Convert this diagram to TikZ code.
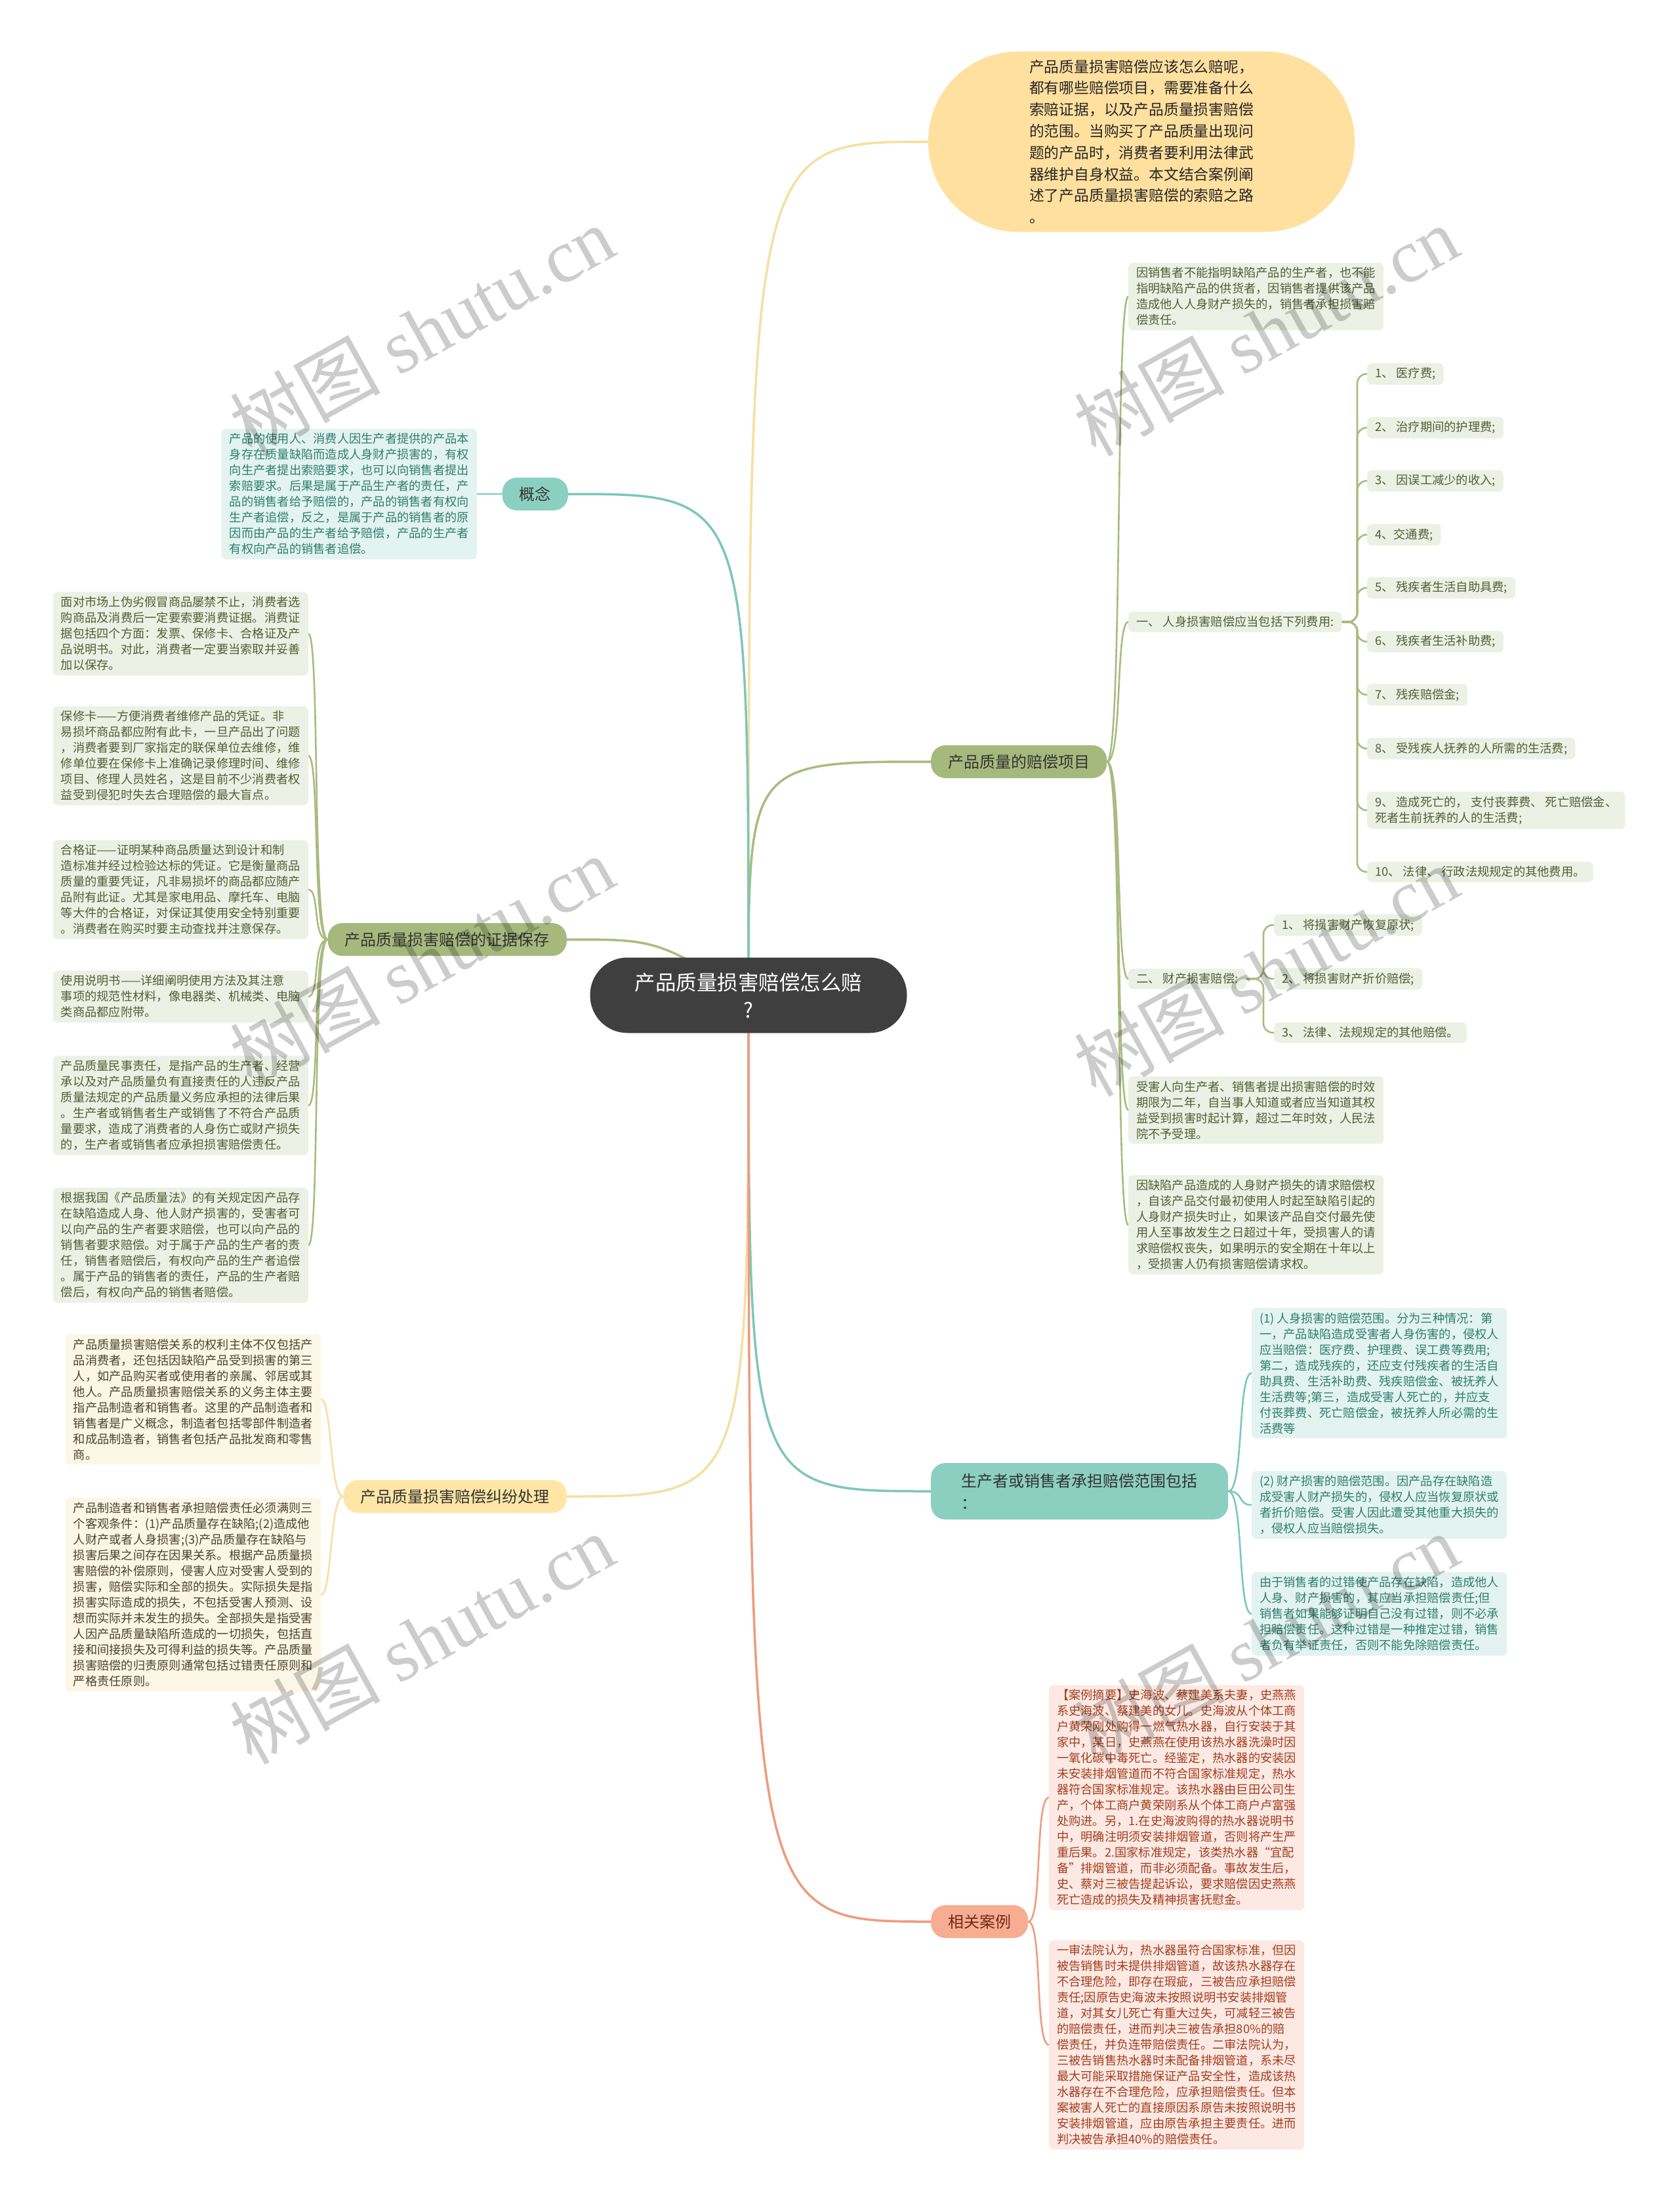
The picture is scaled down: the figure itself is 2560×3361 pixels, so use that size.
\documentclass[tikz,border=0pt]{standalone}
\usepackage{fontspec}
\setmainfont{Noto Sans CJK SC}
\newfontfamily\wmserif{Liberation Serif}
\usetikzlibrary{backgrounds}
\definecolor{rootfill}{HTML}{3F3F3F}
\definecolor{bubfill}{HTML}{FFE09F}
\definecolor{olvfill}{HTML}{A5B97D}
\definecolor{olvline}{HTML}{A9BB80}
\definecolor{olvleaf}{HTML}{EDF0E4}
\definecolor{olvtext}{HTML}{535E38}
\definecolor{tealfill}{HTML}{8BCFC1}
\definecolor{tealline}{HTML}{7EC7B7}
\definecolor{tealleaf}{HTML}{E3F3EF}
\definecolor{tealtext}{HTML}{2E7F70}
\definecolor{yelfill}{HTML}{FFE6A6}
\definecolor{yelline}{HTML}{F6DFA2}
\definecolor{yelleaf}{HTML}{FCF6E6}
\definecolor{yeltext}{HTML}{4F4330}
\definecolor{salfill}{HTML}{F6AD92}
\definecolor{salline}{HTML}{EE9B80}
\definecolor{salleaf}{HTML}{FDE9E3}
\definecolor{saltext}{HTML}{A23E1E}
\tikzset{
  leafbox/.style={rounded corners=7pt, inner xsep=12pt, inner ysep=7pt, align=left,
    font=\fontsize{18.25}{24}\selectfont},
  oleaf/.style={leafbox, fill=olvleaf, text=olvtext},
  tleaf/.style={leafbox, fill=tealleaf, text=tealtext},
  yleaf/.style={leafbox, fill=yelleaf, text=yeltext},
  sleaf/.style={leafbox, fill=salleaf, text=saltext},
  branch/.style={rounded corners=22pt, minimum height=50pt, inner xsep=26pt, inner ysep=6pt,
    font=\fontsize{24}{30}\selectfont, text=black!80},
  conn/.style={line width=3.5pt, line cap=round},
  subconn/.style={line width=2.6pt, line cap=round},
  wm/.style={rotate=29, text=black, opacity=0.2, font=\fontsize{115}{120}\selectfont}
}
\begin{document}
\begin{tikzpicture}[x=1pt,y=-1pt]
\useasboundingbox (0,0) rectangle (2560,3361);

% root
\node[fill=rootfill, text=white, rounded corners=57pt, minimum width=483pt, minimum height=115pt,
  align=center, font=\fontsize{31.5}{42}\selectfont] (root) at (1141,1517) {产品质量损害赔偿怎么赔\\?};

% intro bubble
\node[fill=bubfill, text=black!85, rounded corners=137pt, minimum width=650pt, minimum height=275pt,
  align=left, font=\fontsize{22.8}{32.8}\selectfont] (intro) at (1740,216)
  {产品质量损害赔偿应该怎么赔呢，\\都有哪些赔偿项目，需要准备什么\\索赔证据，以及产品质量损害赔偿\\的范围。当购买了产品质量出现问\\题的产品时，消费者要利用法律武\\器维护自身权益。本文结合案例阐\\述了产品质量损害赔偿的索赔之路\\。};

% branches
\node[branch, fill=olvfill, anchor=west] (bitems) at (1419,1161) {产品质量的赔偿项目};
\node[branch, fill=tealfill, anchor=west, minimum width=453pt, minimum height=86pt, align=left,
  font=\fontsize{24}{34}\selectfont] (bprod) at (1419,2273) {生产者或销售者承担赔偿范围包括\\：};
\node[branch, fill=salfill, anchor=west, text=saltext!70!black] (bcase) at (1419,2929) {相关案例};
\node[branch, fill=tealfill, anchor=east] (bconc) at (866,753) {概念};
\node[branch, fill=olvfill, anchor=east] (bevid) at (864,1432) {产品质量损害赔偿的证据保存};
\node[branch, fill=yelfill, anchor=east] (bdisp) at (864,2281) {产品质量损害赔偿纠纷处理};

% right olive leaves
\node[oleaf, anchor=west] (c1) at (1720,452) {因销售者不能指明缺陷产品的生产者，也不能\\指明缺陷产品的供货者，因销售者提供该产品\\造成他人人身财产损失的，销售者承担损害赔\\偿责任。};
\node[oleaf, anchor=west] (c2) at (1720,948) {一、 人身损害赔偿应当包括下列费用:};
\node[oleaf, anchor=west] (c3) at (1720,1492) {二、 财产损害赔偿:};
\node[oleaf, anchor=west] (c4) at (1720,1692) {受害人向生产者、销售者提出损害赔偿的时效\\期限为二年，自当事人知道或者应当知道其权\\益受到损害时起计算，超过二年时效，人民法\\院不予受理。};
\node[oleaf, anchor=west] (c5) at (1720,1867) {因缺陷产品造成的人身财产损失的请求赔偿权\\，自该产品交付最初使用人时起至缺陷引起的\\人身财产损失时止，如果该产品自交付最先使\\用人至事故发生之日超过十年，受损害人的请\\求赔偿权丧失，如果明示的安全期在十年以上\\，受损害人仍有损害赔偿请求权。};

% list items
\node[oleaf, anchor=west] (l1) at (2084,570) {1、 医疗费;};
\node[oleaf, anchor=west] (l2) at (2084,652) {2、 治疗期间的护理费;};
\node[oleaf, anchor=west] (l3) at (2084,733) {3、 因误工减少的收入;};
\node[oleaf, anchor=west] (l4) at (2084,815) {4、交通费;};
\node[oleaf, anchor=west] (l5) at (2084,896) {5、 残疾者生活自助具费;};
\node[oleaf, anchor=west] (l6) at (2084,978) {6、 残疾者生活补助费;};
\node[oleaf, anchor=west] (l7) at (2084,1059) {7、 残疾赔偿金;};
\node[oleaf, anchor=west] (l8) at (2084,1141) {8、 受残疾人抚养的人所需的生活费;};
\node[oleaf, anchor=west] (l9) at (2084,1235) {9、 造成死亡的， 支付丧葬费、 死亡赔偿金、\\死者生前抚养的人的生活费;};
\node[oleaf, anchor=west] (l10) at (2084,1329) {10、 法律、 行政法规规定的其他费用。};

\node[oleaf, anchor=west] (r1) at (1942,1410) {1、 将损害财产恢复原状;};
\node[oleaf, anchor=west] (r2) at (1942,1492) {2、 将损害财产折价赔偿;};
\node[oleaf, anchor=west] (r3) at (1942,1574) {3、 法律、法规规定的其他赔偿。};

% teal leaves right
\node[tleaf, anchor=west] (p1) at (1908,2093) {(1) 人身损害的赔偿范围。分为三种情况：第\\一，产品缺陷造成受害者人身伤害的，侵权人\\应当赔偿：医疗费、护理费、误工费等费用;\\第二，造成残疾的，还应支付残疾者的生活自\\助具费、生活补助费、残疾赔偿金、被抚养人\\生活费等;第三，造成受害人死亡的，并应支\\付丧葬费、死亡赔偿金，被抚养人所必需的生\\活费等};
\node[tleaf, anchor=west] (p2) at (1908,2294) {(2) 财产损害的赔偿范围。因产品存在缺陷造\\成受害人财产损失的，侵权人应当恢复原状或\\者折价赔偿。受害人因此遭受其他重大损失的\\，侵权人应当赔偿损失。};
\node[tleaf, anchor=west] (p3) at (1908,2460) {由于销售者的过错使产品存在缺陷，造成他人\\人身、财产损害的，其应当承担赔偿责任;但\\销售者如果能够证明自己没有过错，则不必承\\担赔偿责任。这种过错是一种推定过错，销售\\者负有举证责任，否则不能免除赔偿责任。};

% case leaves
\node[sleaf, anchor=west] (k1) at (1599,2740) {【案例摘要】史海波、蔡建美系夫妻，史燕燕\\系史海波、蔡建美的女儿。史海波从个体工商\\户黄荣刚处购得一燃气热水器，自行安装于其\\家中，某日，史燕燕在使用该热水器洗澡时因\\一氧化碳中毒死亡。经鉴定，热水器的安装因\\未安装排烟管道而不符合国家标准规定，热水\\器符合国家标准规定。该热水器由巨田公司生\\产，个体工商户黄荣刚系从个体工商户卢富强\\处购进。另，1.在史海波购得的热水器说明书\\中，明确注明须安装排烟管道，否则将产生严\\重后果。2.国家标准规定，该类热水器“宜配\\备”排烟管道，而非必须配备。事故发生后，\\史、蔡对三被告提起诉讼，要求赔偿因史燕燕\\死亡造成的损失及精神损害抚慰金。};
\node[sleaf, anchor=west] (k2) at (1599,3117) {一审法院认为，热水器虽符合国家标准，但因\\被告销售时未提供排烟管道，故该热水器存在\\不合理危险，即存在瑕疵，三被告应承担赔偿\\责任;因原告史海波未按照说明书安装排烟管\\道，对其女儿死亡有重大过失，可减轻三被告\\的赔偿责任，进而判决三被告承担80\%的赔\\偿责任，并负连带赔偿责任。二审法院认为，\\三被告销售热水器时未配备排烟管道，系未尽\\最大可能采取措施保证产品安全性，造成该热\\水器存在不合理危险，应承担赔偿责任。但本\\案被害人死亡的直接原因系原告未按照说明书\\安装排烟管道，应由原告承担主要责任。进而\\判决被告承担40\%的赔偿责任。};

% concept leaf
\node[tleaf, anchor=east] (g1) at (727,753) {产品的使用人、消费人因生产者提供的产品本\\身存在质量缺陷而造成人身财产损害的，有权\\向生产者提出索赔要求，也可以向销售者提出\\索赔要求。后果是属于产品生产者的责任，产\\品的销售者给予赔偿的，产品的销售者有权向\\生产者追偿，反之，是属于产品的销售者的原\\因而由产品的生产者给予赔偿，产品的生产者\\有权向产品的销售者追偿。};

% evidence leaves
\node[oleaf, anchor=east] (e1) at (470,966) {面对市场上伪劣假冒商品屡禁不止，消费者选\\购商品及消费后一定要索要消费证据。消费证\\据包括四个方面：发票、保修卡、合格证及产\\品说明书。对此，消费者一定要当索取并妥善\\加以保存。};
\node[oleaf, anchor=east] (e2) at (470,1152) {保修卡——方便消费者维修产品的凭证。非\\易损坏商品都应附有此卡，一旦产品出了问题\\，消费者要到厂家指定的联保单位去维修，维\\修单位要在保修卡上准确记录修理时间、维修\\项目、修理人员姓名，这是目前不少消费者权\\益受到侵犯时失去合理赔偿的最大盲点。};
\node[oleaf, anchor=east] (e3) at (470,1356) {合格证——证明某种商品质量达到设计和制\\造标准并经过检验达标的凭证。它是衡量商品\\质量的重要凭证，凡非易损坏的商品都应随产\\品附有此证。尤其是家电用品、摩托车、电脑\\等大件的合格证，对保证其使用安全特别重要\\。消费者在购买时要主动查找并注意保存。};
\node[oleaf, anchor=east] (e4) at (470,1519) {使用说明书——详细阐明使用方法及其注意\\事项的规范性材料，像电器类、机械类、电脑\\类商品都应附带。};
\node[oleaf, anchor=east] (e5) at (470,1685) {产品质量民事责任，是指产品的生产者、经营\\承以及对产品质量负有直接责任的人违反产品\\质量法规定的产品质量义务应承担的法律后果\\。生产者或销售者生产或销售了不符合产品质\\量要求，造成了消费者的人身伤亡或财产损失\\的，生产者或销售者应承担损害赔偿责任。};
\node[oleaf, anchor=east] (e6) at (470,1898) {根据我国《产品质量法》的有关规定因产品存\\在缺陷造成人身、他人财产损害的，受害者可\\以向产品的生产者要求赔偿，也可以向产品的\\销售者要求赔偿。对于属于产品的生产者的责\\任，销售者赔偿后，有权向产品的生产者追偿\\。属于产品的销售者的责任，产品的生产者赔\\偿后，有权向产品的销售者赔偿。};

% dispute leaves
\node[yleaf, anchor=east] (d1) at (489,2133) {产品质量损害赔偿关系的权利主体不仅包括产\\品消费者，还包括因缺陷产品受到损害的第三\\人，如产品购买者或使用者的亲属、邻居或其\\他人。产品质量损害赔偿关系的义务主体主要\\指产品制造者和销售者。这里的产品制造者和\\销售者是广义概念，制造者包括零部件制造者\\和成品制造者，销售者包括产品批发商和零售\\商。};
\node[yleaf, anchor=east] (d2) at (489,2431) {产品制造者和销售者承担赔偿责任必须满则三\\个客观条件：(1)产品质量存在缺陷;(2)造成他\\人财产或者人身损害;(3)产品质量存在缺陷与\\损害后果之间存在因果关系。根据产品质量损\\害赔偿的补偿原则，侵害人应对受害人受到的\\损害，赔偿实际和全部的损失。实际损失是指\\损害实际造成的损失，不包括受害人预测、设\\想而实际并未发生的损失。全部损失是指受害\\人因产品质量缺陷所造成的一切损失，包括直\\接和间接损失及可得利益的损失等。产品质量\\损害赔偿的归责原则通常包括过错责任原则和\\严格责任原则。};

% connectors
\begin{pgfonlayer}{background}
\fill[white] (0,0) rectangle (2560,3361);
% main
\draw[conn, yelline] (root.center) .. controls (root.center |- intro.west) .. (intro.west);
\draw[conn, olvline] (root.center) .. controls (root.center |- bitems.west) .. (bitems.west);
\draw[conn, tealline] (root.center) .. controls (root.center |- bconc.east) .. (bconc.east);
\draw[conn, olvline] (root.center) .. controls (1000,1432) .. (bevid.east);
\draw[conn, yelline] (root.center) .. controls (root.center |- bdisp.east) .. (bdisp.east);
\draw[conn, tealline] (root.center) .. controls (root.center |- bprod.west) .. (bprod.west);
\draw[conn, salline] (root.center) .. controls (root.center |- bcase.west) .. (bcase.west);
% right olive
\foreach \c in {c1,c2,c3,c4,c5}
  \draw[subconn, olvline] (bitems.east) .. controls +(24,0) and +(-20,0) .. (\c.west);
\foreach \l in {l1,l2,l3,l4,l5,l6,l7,l8,l9,l10}
  \draw[subconn, olvline, rounded corners=14pt] (c2.east) -- (2069,948) |- (\l.west);
\foreach \r in {r1,r2,r3}
  \draw[subconn, olvline, rounded corners=14pt] (c3.east) -- (1926,1492) |- (\r.west);
% teal right
\foreach \p in {p1,p2,p3}
  \draw[subconn, tealline] (bprod.east) .. controls +(24,0) and +(-22,0) .. (\p.west);
% case
\foreach \k in {k1,k2}
  \draw[subconn, salline] (bcase.east) .. controls +(22,0) and +(-22,0) .. (\k.west);
% left
\draw[subconn, tealline] (bconc.west) -- (g1.east);
\foreach \e in {e1,e2,e3,e4,e5,e6}
  \draw[subconn, olvline] (bevid.west) .. controls +(-24,0) and +(18,0) .. (\e.east);
\foreach \d in {d1,d2}
  \draw[subconn, yelline] (bdisp.west) .. controls +(-22,0) and +(18,0) .. (\d.east);
\end{pgfonlayer}

% watermarks
\foreach \wx/\wy in {643/504, 1930/504, 643/1465, 1930/1480, 643/2498, 1930/2498}
  \node[wm] at (\wx,\wy) {树图 {\wmserif shutu.cn}};
\end{tikzpicture}
\end{document}
